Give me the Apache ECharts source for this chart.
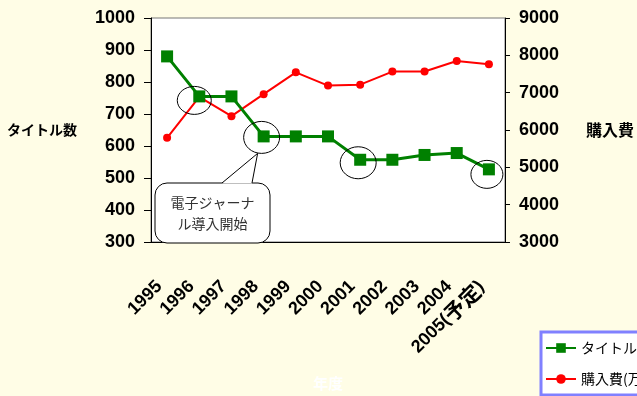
<!DOCTYPE html>
<html>
<head>
<meta charset="utf-8">
<script src="https://cdn.jsdelivr.net/npm/echarts@6/dist/echarts.min.js"></script>
<style>
  html, body { margin: 0; padding: 0; background: #fffde6; }
  #main { width: 637px; height: 396px; }
</style>
</head>
<body>
<div id="main"></div>
<script>
var years = ['1995', '1996', '1997', '1998', '1999', '2000', '2001', '2002', '2003', '2004', '2005(予定)'];
var titles = [880, 755, 755, 630, 630, 630, 557, 557, 572, 578, 527];
var costs = [5790, 6890, 6370, 6960, 7545, 7190, 7215, 7565, 7565, 7850, 7760];
var circled = [1, 3, 6, 10];
var noteText = '電子ジャーナ\nル導入開始';

var chart = echarts.init(document.getElementById('main'));
var numFont = '"Liberation Sans", Arial, sans-serif';
var jpFont = '"Noto Sans CJK JP", sans-serif';

function plain(v) { return String(v); }

// bigger glyphs for the kanji part of "2005(予定)"
function yearLabel(v) {
  var m = v.match(/^(\d+\()(.+)(\))$/);
  if (!m) return v;
  return m[1] + '{j|' + m[2] + '}' + m[3];
}

chart.setOption({
  backgroundColor: '#fffde6',
  animation: false,
  grid: {
    left: 151, right: 132, top: 18, bottom: 147,
    show: true, backgroundColor: '#fff', borderColor: '#777', borderWidth: 1
  },
  legend: {
    orient: 'vertical',
    left: 541, top: 332,
    padding: [9, 8, 9, 4],
    itemGap: 17,
    itemWidth: 30, itemHeight: 12,
    backgroundColor: '#fff',
    borderColor: '#8080ff', borderWidth: 3,
    textStyle: { fontFamily: jpFont, fontSize: 14, color: '#000' },
    data: ['タイトル数', '購入費(万円)']
  },
  xAxis: {
    type: 'category',
    data: years,
    name: '年度',
    nameLocation: 'middle',
    nameGap: 134,
    nameTextStyle: { color: '#fff', fontFamily: jpFont, fontWeight: 'bold', fontSize: 15 },
    axisLine: { lineStyle: { color: '#000', width: 1 } },
    axisTick: { inside: true, length: 6, lineStyle: { color: '#000' } },
    axisLabel: {
      rotate: 45, margin: 34, interval: 0,
      padding: [0, 11, 0, 0],
      formatter: yearLabel,
      fontFamily: numFont, fontWeight: 'bold', fontSize: 18, color: '#000',
      rich: {
        j: { fontFamily: jpFont, fontWeight: 'bold', fontSize: 21, color: '#000' }
      }
    }
  },
  yAxis: [{
    type: 'value',
    min: 300, max: 1000, interval: 100,
    name: 'タイトル数',
    nameLocation: 'middle', nameRotate: 0, nameGap: 74,
    nameTextStyle: { fontFamily: jpFont, fontWeight: 'bold', fontSize: 14, color: '#000', align: 'right' },
    axisLine: { show: true, lineStyle: { color: '#000' } },
    axisTick: { show: true, length: 7, lineStyle: { color: '#000' } },
    splitLine: { show: false },
    axisLabel: { margin: 16, formatter: plain, fontFamily: numFont, fontWeight: 'bold', fontSize: 18, color: '#000' }
  }, {
    type: 'value',
    min: 3000, max: 9000, interval: 1000,
    name: '購入費',
    nameLocation: 'middle', nameRotate: 0, nameGap: 81,
    nameTextStyle: { fontFamily: jpFont, fontWeight: 'bold', fontSize: 16, color: '#000', align: 'left' },
    axisLine: { show: true, lineStyle: { color: '#000' } },
    axisTick: { show: true, length: 5, lineStyle: { color: '#000' } },
    splitLine: { show: false },
    axisLabel: { margin: 14, formatter: plain, fontFamily: numFont, fontWeight: 'bold', fontSize: 18, color: '#000' }
  }],
  series: [{
    name: 'タイトル数',
    type: 'line',
    yAxisIndex: 0,
    data: titles,
    symbol: 'rect', symbolSize: 12,
    itemStyle: { color: '#008000' },
    lineStyle: { color: '#008000', width: 3 },
    z: 3
  }, {
    name: '購入費(万円)',
    type: 'line',
    yAxisIndex: 1,
    data: costs,
    symbol: 'circle', symbolSize: 8,
    itemStyle: { color: '#ff0000' },
    lineStyle: { color: '#ff0000', width: 2 },
    z: 2
  }]
});

// annotation circles and callout, placed from the data positions
var offs = { 1: [-5, 4, 17, 14], 3: [-2, 1, 18, 16], 6: [-2, 3, 18, 16], 10: [-2, 5, 16, 14] };
var els = [];
circled.forEach(function (i) {
  var p = chart.convertToPixel({ seriesIndex: 0 }, [i, titles[i]]);
  var o = offs[i];
  els.push({
    type: 'ellipse', z: 100,
    shape: { cx: p[0] + o[0], cy: p[1] + o[1], rx: o[2], ry: o[3] },
    style: { fill: 'none', stroke: '#000', lineWidth: 1 }
  });
});
var p98 = chart.convertToPixel({ seriesIndex: 0 }, [3, titles[3]]);
var tip = [p98[0] - 6, p98[1] + 17];
var bx = 155, by = 183, bw = 115, bh = 60;
els.push({
  type: 'rect', z: 100,
  shape: { x: bx, y: by, width: bw, height: bh, r: 12 },
  style: { fill: '#fff', stroke: '#000', lineWidth: 1 }
});
els.push({
  type: 'polygon', z: 101,
  shape: { points: [[222, by + 0.5], tip, [252, by + 0.5]] },
  style: { fill: '#fff', stroke: 'none' }
});
els.push({
  type: 'polyline', z: 102,
  shape: { points: [[222, by], tip, [252, by]] },
  style: { fill: 'none', stroke: '#000', lineWidth: 1 }
});
els.push({
  type: 'text', z: 103,
  x: bx + bw / 2, y: by + bh / 2,
  style: {
    text: noteText, align: 'center', verticalAlign: 'middle',
    font: '14px "Noto Sans CJK JP", sans-serif', fill: '#333', lineHeight: 21
  }
});
chart.setOption({ graphic: els });
</script>
</body>
</html>
